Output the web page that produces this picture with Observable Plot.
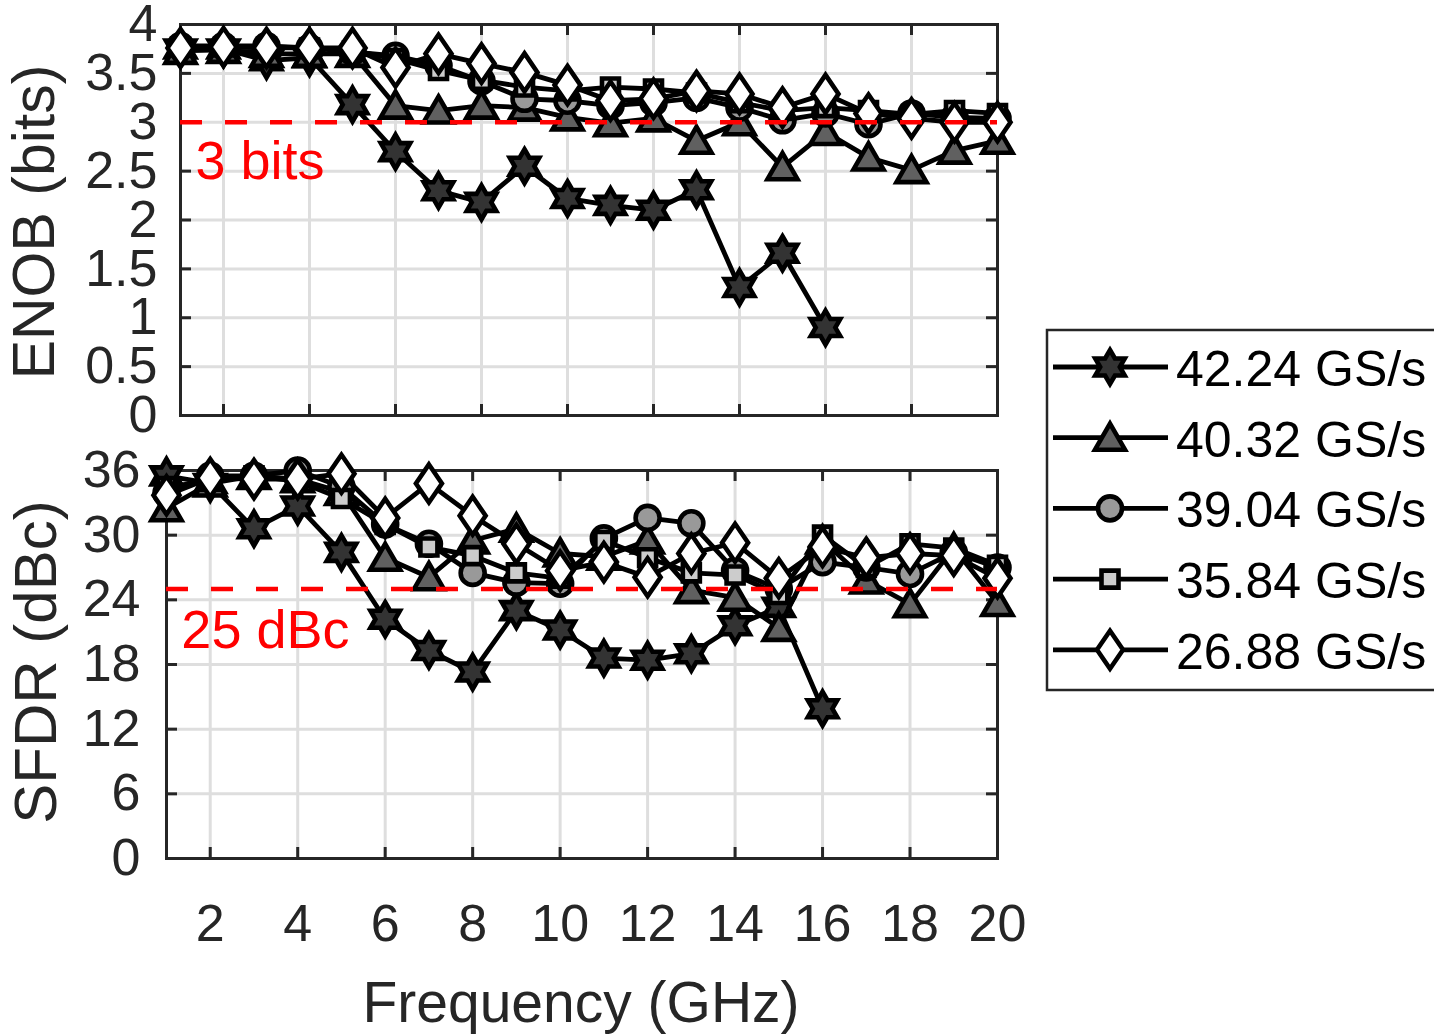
<!DOCTYPE html>
<html><head><meta charset="utf-8">
<script src="https://cdn.jsdelivr.net/npm/d3@7"></script>
<script src="https://cdn.jsdelivr.net/npm/@observablehq/plot@0.6"></script>
<style>
html,body{margin:0;padding:0;background:#fff;}
#root{position:relative;width:1434px;height:1036px;overflow:hidden;font-family:"Liberation Sans",Arial,Helvetica,sans-serif;color:#262626;background:#fff;}
.abs{position:absolute;left:0;}
</style></head><body><div id="root"></div>
<script>
// ---------- data ----------
const freq = [1,2,3,4,5,6,7,8,9,10,11,12,13,14,15,16,17,18,19,20];
const seriesNames = ["42.24 GS/s","40.32 GS/s","39.04 GS/s","35.84 GS/s","26.88 GS/s"];

const enob4224 = [3.75,3.75,3.63,3.66,3.18,2.70,2.30,2.18,2.55,2.22,2.15,2.10,2.31,1.31,1.66,0.90];
const enob4032 = [3.73,3.74,3.70,3.70,3.70,3.17,3.12,3.17,3.15,3.05,2.99,3.04,2.81,3.00,2.54,2.90,2.64,2.51,2.71,2.81];
const enob3904 = [3.78,3.78,3.78,3.76,3.72,3.68,3.58,3.42,3.24,3.22,3.17,3.20,3.25,3.15,3.02,3.09,2.98,3.09,3.05,3.04];
const enob3584 = [3.77,3.77,3.77,3.76,3.73,3.65,3.53,3.43,3.36,3.32,3.36,3.34,3.30,3.20,3.12,3.15,3.12,3.08,3.12,3.09];
const enob2688 = [3.76,3.77,3.76,3.76,3.76,3.56,3.70,3.60,3.51,3.38,3.22,3.24,3.32,3.29,3.15,3.29,3.09,3.04,3.00,3.00];

const sfdr4224 = [35.5,34.8,30.6,32.7,28.4,22.2,19.3,17.3,23.0,21.2,18.6,18.4,19.0,21.6,23.3,13.9];
const sfdr4032 = [32.5,34.8,35.5,35.2,34.0,27.9,26.1,29.5,30.6,28.3,28.0,29.5,24.9,24.2,21.4,29.5,25.8,23.6,28.8,23.7];
const sfdr3904 = [33.9,35.5,35.5,36.0,34.5,31.0,29.2,26.5,25.6,25.5,29.7,31.6,31.1,26.7,25.0,27.5,27.0,26.4,28.4,27.0];
const sfdr3584 = [34.5,35.0,35.5,35.0,33.4,31.0,28.9,28.1,26.5,26.0,29.5,27.9,26.5,26.3,24.5,30.0,27.0,29.2,28.8,27.2];
const sfdr2688 = [33.7,35.3,35.2,35.2,35.7,31.6,34.8,31.8,29.2,26.7,27.5,26.1,28.3,29.3,26.0,28.9,27.9,28.3,28.1,26.0];

const xTicks = [2,4,6,8,10,12,14,16,18,20];
const enobTicks = [0,0.5,1,1.5,2,2.5,3,3.5,4];
const sfdrTicks = [0,6,12,18,24,30,36];
const enobThreshold = [3];
const sfdrThreshold = [25];
const enobNote = [{x: 1.35, y: 2.42, text: "3 bits"}];
const sfdrNote = [{x: 1.34, y: 19.5, text: "25 dBc"}];
const xLabel = "Frequency (GHz)";
const enobLabel = "ENOB (bits)";
const sfdrLabel = "SFDR (dBc)";

// ---------- marker shapes (MATLAB-like) ----------
function unit(size){ return Math.sqrt(size/Math.PI); }
const hexagram = {draw(ctx,size){const s=unit(size),R=17*s,r=R/Math.sqrt(3);
  for(let i=0;i<12;i++){const a=-Math.PI/2+i*Math.PI/6,rr=i%2?r:R,x=rr*Math.cos(a),y=rr*Math.sin(a); if(i) ctx.lineTo(x,y); else ctx.moveTo(x,y);} ctx.closePath();}};
const triangle = {draw(ctx,size){const s=unit(size); ctx.moveTo(0,-14*s); ctx.lineTo(15*s,12*s); ctx.lineTo(-15*s,12*s); ctx.closePath();}};
const circle = {draw(ctx,size){const s=unit(size),r=12*s; ctx.moveTo(r,0); ctx.arc(0,0,r,0,2*Math.PI); ctx.closePath();}};
const square = {draw(ctx,size){const s=unit(size),h=8.5*s; ctx.moveTo(-h,-h); ctx.lineTo(h,-h); ctx.lineTo(h,h); ctx.lineTo(-h,h); ctx.closePath();}};
const diamond = {draw(ctx,size){const s=unit(size),w=13*s,h=19*s; ctx.moveTo(0,-h); ctx.lineTo(w,0); ctx.lineTo(0,h); ctx.lineTo(-w,0); ctx.closePath();}};

const series = [
  {name: seriesNames[0], enob: enob4224, sfdr: sfdr4224, symbol: hexagram, fill: "#333333"},
  {name: seriesNames[1], enob: enob4032, sfdr: sfdr4032, symbol: triangle, fill: "#606060"},
  {name: seriesNames[2], enob: enob3904, sfdr: sfdr3904, symbol: circle, fill: "#999999"},
  {name: seriesNames[3], enob: enob3584, sfdr: sfdr3584, symbol: square, fill: "#cccccc"},
  {name: seriesNames[4], enob: enob2688, sfdr: sfdr2688, symbol: diamond, fill: "#ffffff"}
];

const FONT = '"Liberation Sans", Arial, Helvetica, sans-serif';
const INK = "#262626";
const LINE_W = 4.8, MARK_W = 4.6;
const root = document.getElementById("root");

function panel({key, yDomain, yTicks, threshold, note, top, height, mTop, mBottom, mLeft, tickPad, showX}) {
  const W = 1434, mRight = 437;
  const fw = W - mLeft - mRight, fh = height - mTop - mBottom;
  const marks = [
    Plot.ruleX(xTicks, {x: d => d, stroke: "#dedede", strokeWidth: 3}),
    Plot.ruleY(yTicks, {y: d => d, stroke: "#dedede", strokeWidth: 3}),
    Plot.tickY(yTicks, {y: d => d, insetRight: fw - 11, stroke: INK, strokeWidth: 3}),
    Plot.tickY(yTicks, {y: d => d, insetLeft: fw - 11, stroke: INK, strokeWidth: 3}),
    Plot.tickX(xTicks, {x: d => d, insetBottom: fh - 11, stroke: INK, strokeWidth: 3}),
    Plot.tickX(xTicks, {x: d => d, insetTop: fh - 11, stroke: INK, strokeWidth: 3}),
    Plot.frame({stroke: INK, strokeWidth: 3}),
    Plot.axisY({ticks: yTicks, tickSize: 0, tickPadding: tickPad, tickFormat: d => String(d), label: null, fill: INK, fontSize: 52})
  ];
  if (showX) marks.push(Plot.axisX({ticks: xTicks, tickSize: 0, tickPadding: 46, tickFormat: d => String(d), label: null, fill: INK, fontSize: 52}));
  for (const s of series) {
    const vals = s[key];
    const rows = vals.map((v, i) => ({f: freq[i], v}));
    marks.push(Plot.line(rows, {x: "f", y: "v", stroke: "#000", strokeWidth: LINE_W, strokeLinejoin: "round"}));
    marks.push(Plot.dot(rows, {x: "f", y: "v", r: 1, symbol: s.symbol, fill: s.fill, stroke: "#000", strokeWidth: MARK_W, strokeLinejoin: "miter"}));
  }
  marks.push(Plot.ruleY(threshold, {y: d => d, stroke: "#ff0000", strokeWidth: 4.5, strokeDasharray: "22,23"}));
  marks.push(Plot.text(note, {x: "x", y: "y", text: "text", fill: "#ff0000", fontSize: 54, textAnchor: "start", lineAnchor: "bottom"}));
  const svg = Plot.plot({
    width: W, height,
    marginTop: mTop, marginBottom: mBottom, marginLeft: mLeft, marginRight: mRight,
    x: {domain: [1, 20], axis: showX ? undefined : null},
    y: {domain: yDomain},
    style: {fontFamily: FONT, fontSize: "52px", color: INK, background: "transparent", overflow: "visible"},
    marks
  });
  svg.classList.add("abs");
  svg.style.top = top + "px";
  root.appendChild(svg);
}

panel({key: "enob", yDomain: [0, 4], yTicks: enobTicks, threshold: enobThreshold, note: enobNote,
  top: 0, height: 440, mTop: 24, mBottom: 25, mLeft: 180, tickPad: 23, showX: false});
panel({key: "sfdr", yDomain: [0, 36], yTicks: sfdrTicks, threshold: sfdrThreshold, note: sfdrNote,
  top: 440, height: 596, mTop: 30, mBottom: 178, mLeft: 166, tickPad: 26, showX: true});

// ---------- axis titles and legend ----------
const over = d3.select(root).append("svg")
  .attr("class", "abs").attr("width", 1434).attr("height", 1036)
  .style("top", "0px").style("overflow", "visible").style("pointer-events", "none")
  .style("font-family", FONT).attr("fill", INK);
over.append("text").attr("x", 581).attr("y", 1022).attr("text-anchor", "middle").attr("font-size", 57).text(xLabel);
over.append("text").attr("transform", "translate(54,222) rotate(-90)").attr("text-anchor", "middle").attr("font-size", 59).text(enobLabel);
over.append("text").attr("transform", "translate(56,662) rotate(-90)").attr("text-anchor", "middle").attr("font-size", 60).text(sfdrLabel);

const leg = over.append("g");
leg.append("rect").attr("x", 1047).attr("y", 330).attr("width", 420).attr("height", 360)
  .attr("fill", "#fff").attr("stroke", INK).attr("stroke-width", 2.5);
series.forEach((s, i) => {
  const y = 367 + i * 70.7;
  leg.append("line").attr("x1", 1053).attr("x2", 1168).attr("y1", y).attr("y2", y)
    .attr("stroke", "#000").attr("stroke-width", LINE_W);
  leg.append("path").attr("transform", `translate(1110,${y})`)
    .attr("d", d3.symbol(s.symbol, Math.PI)())
    .attr("fill", s.fill).attr("stroke", "#000").attr("stroke-width", MARK_W);
  leg.append("text").attr("x", 1176).attr("y", y + 19).attr("font-size", 50).attr("fill", "#000").text(s.name);
});
</script></body></html>
